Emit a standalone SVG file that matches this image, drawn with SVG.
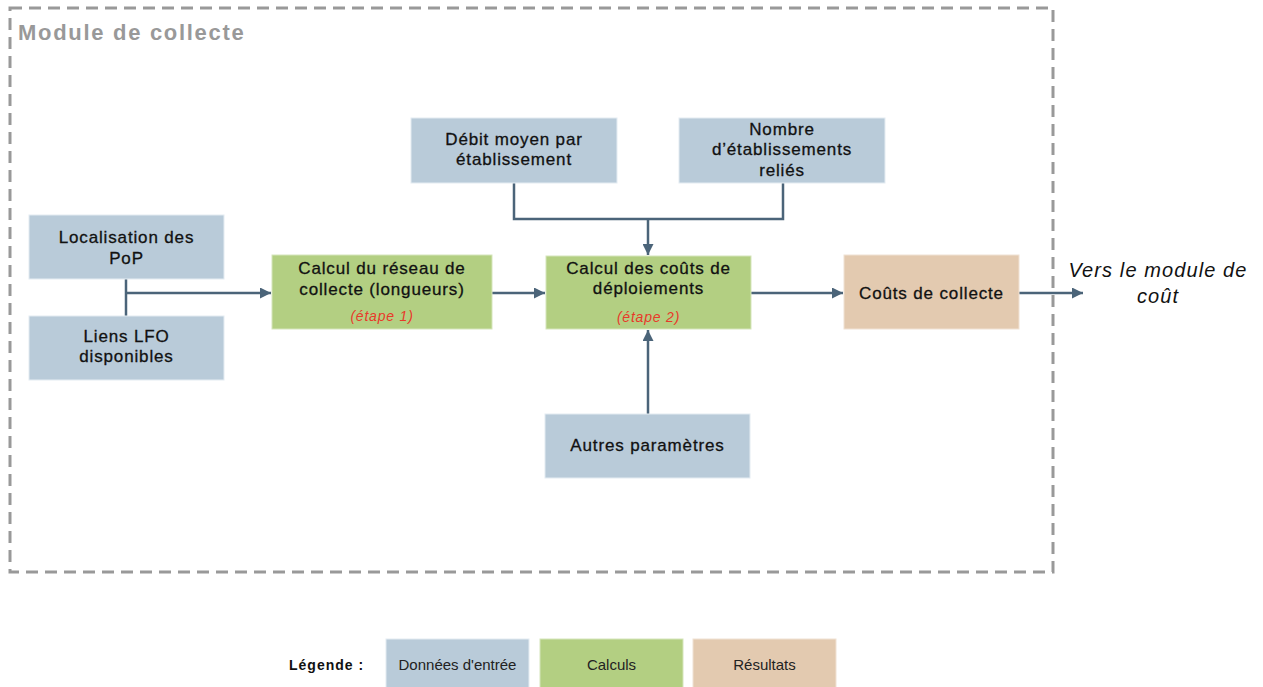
<svg xmlns="http://www.w3.org/2000/svg" width="1263" height="687" viewBox="0 0 1263 687">
<style>
.in{fill:#B9CBD9;stroke:#E4ECF2;stroke-width:1}
.calc{fill:#B3CF82;stroke:#D5E5BB;stroke-width:1}
.res{fill:#E3CAB0;stroke:#F0E2D4;stroke-width:1}
.t{font-family:"Liberation Sans",Arial,sans-serif;font-size:17px;letter-spacing:0.85px;fill:#111;stroke:#111;stroke-width:0.3px;text-anchor:middle}
.step{font-family:"Liberation Sans",Arial,sans-serif;font-size:14px;font-style:italic;letter-spacing:0.8px;fill:#E8392A;text-anchor:middle}
.lg{font-family:"Liberation Sans",Arial,sans-serif;font-size:15px;fill:#222;text-anchor:middle}
.conn{fill:none;stroke:#4B6479;stroke-width:2.5}
</style>
<defs>
<marker id="ah" viewBox="0 0 10 10" refX="10" refY="5" markerWidth="4.4" markerHeight="4.4" markerUnits="strokeWidth" orient="auto">
<path d="M0,0 L10,5 L0,10 z" fill="#4B6479"/>
</marker>
</defs>
<rect width="1263" height="687" fill="#fff"/>
<g id="frame">
<rect x="10" y="8" width="1043" height="564" fill="none" stroke="#999" stroke-width="3" stroke-dasharray="12 7"/>
<text x="18" y="40" font-family="'Liberation Sans',Arial,sans-serif" font-size="22" font-weight="bold" letter-spacing="1.7" fill="#999">Module de collecte</text>
</g>
<g id="connectors">
<path class="conn" d="M126,279 V316"/>
<path class="conn" d="M126,293 H271" marker-end="url(#ah)"/>
<path class="conn" d="M492,293 H545" marker-end="url(#ah)"/>
<path class="conn" d="M514,183 V219 H783 V183"/>
<path class="conn" d="M648,219 V255" marker-end="url(#ah)"/>
<path class="conn" d="M648,414 V330" marker-end="url(#ah)"/>
<path class="conn" d="M751,293 H843" marker-end="url(#ah)"/>
<path class="conn" d="M1019,293 H1083" marker-end="url(#ah)"/>
</g>
<g id="localisation">
<rect class="in" x="29" y="215" width="195" height="64"/>
<text class="t" x="126.5" y="243">Localisation des</text>
<text class="t" x="126.5" y="264">PoP</text>
</g>
<g id="liens">
<rect class="in" x="29" y="316" width="195" height="64"/>
<text class="t" x="126.5" y="342">Liens LFO</text>
<text class="t" x="126.5" y="362">disponibles</text>
</g>
<g id="calcul-reseau">
<rect class="calc" x="272" y="255" width="220" height="74"/>
<text class="t" x="382" y="274">Calcul du réseau de</text>
<text class="t" x="382" y="295">collecte (longueurs)</text>
<text class="step" x="382" y="321">(étape 1)</text>
</g>
<g id="debit">
<rect class="in" x="411" y="118" width="206" height="65"/>
<text class="t" x="514" y="145">Débit moyen par</text>
<text class="t" x="514" y="165">établissement</text>
</g>
<g id="nombre">
<rect class="in" x="679" y="118" width="206" height="65"/>
<text class="t" x="782" y="135">Nombre</text>
<text class="t" x="782" y="155">d’établissements</text>
<text class="t" x="782" y="176">reliés</text>
</g>
<g id="calcul-couts">
<rect class="calc" x="546" y="256" width="205" height="73"/>
<text class="t" x="648.5" y="274">Calcul des coûts de</text>
<text class="t" x="648.5" y="294">déploiements</text>
<text class="step" x="648.5" y="322">(étape 2)</text>
</g>
<g id="autres">
<rect class="in" x="545" y="414" width="205" height="64"/>
<text class="t" x="647.5" y="451">Autres paramètres</text>
</g>
<g id="couts-collecte">
<rect class="res" x="844" y="255" width="175" height="74"/>
<text class="t" x="931.5" y="299">Coûts de collecte</text>
</g>
<g id="vers">
<text x="1158" y="277" font-family="'Liberation Sans',Arial,sans-serif" font-size="20" font-style="italic" letter-spacing="1.1" fill="#111" text-anchor="middle">Vers le module de</text>
<text x="1158" y="303" font-family="'Liberation Sans',Arial,sans-serif" font-size="20" font-style="italic" letter-spacing="1.1" fill="#111" text-anchor="middle">coût</text>
</g>
<g id="legende">
<text x="289" y="670" font-family="'Liberation Sans',Arial,sans-serif" font-size="14" font-weight="bold" letter-spacing="1" fill="#111">Légende :</text>
<rect class="in" x="386" y="639" width="143" height="50"/>
<text class="lg" x="457.5" y="670">Données d'entrée</text>
<rect class="calc" x="540" y="639" width="143" height="50"/>
<text class="lg" x="611.5" y="670">Calculs</text>
<rect class="res" x="693" y="639" width="143" height="50"/>
<text class="lg" x="764.5" y="670">Résultats</text>
</g>
</svg>
